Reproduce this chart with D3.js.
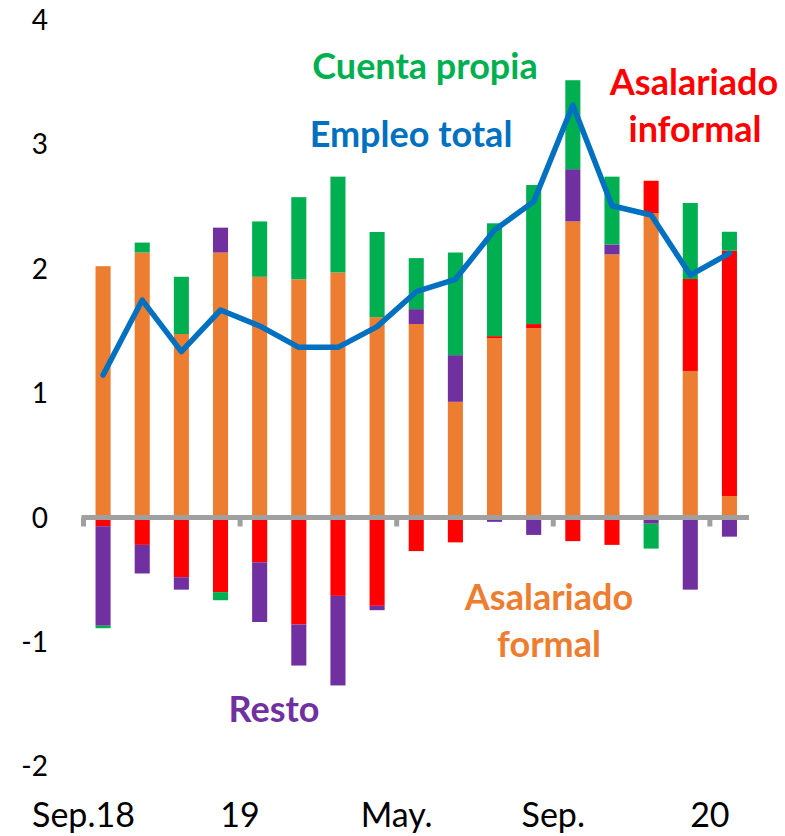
<!DOCTYPE html>
<html>
<head>
<meta charset="utf-8">
<script src="https://cdn.jsdelivr.net/npm/d3@7"></script>
<style>
  body { margin: 0; background: #fff; }
  svg { display: block; font-family: Lato, "Open Sans", sans-serif; }
</style>
</head>
<body>
<div id="chart"></div>
<script>
// months Sep.18 .. Jan.20
var months = ["Sep.18","Oct.18","Nov.18","Dic.18","Ene.19","Feb.19","Mar.19","Abr.19","May.19",
              "Jun.19","Jul.19","Ago.19","Sep.19","Oct.19","Nov.19","Dic.19","Ene.20"];
var tickLabels = ["Sep.18", "19", "May.", "Sep.", "20"];   // every 4th month

var formal   = [2.02, 2.13, 1.475, 2.13, 1.935, 1.915, 1.97, 1.61, 1.555, 0.93, 1.443, 1.523, 2.38, 2.115, 2.445, 1.178, 0.173];
var informal = [-0.07, -0.22, -0.48, -0.60, -0.36, -0.86, -0.63, -0.71, -0.27, -0.20, 0.015, 0.032, -0.19, -0.22, 0.262, 0.739, 1.972];
var resto    = [-0.80, -0.23, -0.10, 0.20, -0.48, -0.33, -0.72, -0.035, 0.12, 0.375, -0.035, -0.14, 0.42, 0.08, -0.05, -0.58, -0.154];
var propia   = [-0.02, 0.08, 0.46, -0.065, 0.445, 0.66, 0.77, 0.685, 0.41, 0.825, 0.907, 1.118, 0.715, 0.545, -0.20, 0.611, 0.152];
var total    = [1.145, 1.748, 1.333, 1.668, 1.54, 1.368, 1.368, 1.534, 1.815, 1.915, 2.311, 2.539, 3.316, 2.506, 2.432, 1.949, 2.124];

var keys = ["formal", "informal", "resto", "propia"];
var colors = {formal: "#ED7D31", informal: "#FF0000", resto: "#7030A0", propia: "#00B050"};

var W = 785, H = 836;
var svg = d3.select("#chart").append("svg").attr("width", W).attr("height", H);

var rows = months.map(function(m, i){
  return {month: m, formal: formal[i], informal: informal[i], resto: resto[i], propia: propia[i], total: total[i]};
});

var x = d3.scaleBand().domain(months).range([83.5, 749]).paddingInner(0.615);
x.paddingOuter(x.paddingInner() / 2);

var y = d3.scaleLinear().domain([-2, 4]).range([766.3, 19.9]);

var series = d3.stack().keys(keys).offset(d3.stackOffsetDiverging)(rows);

svg.append("g").selectAll("g")
  .data(series)
  .join("g")
  .attr("fill", function(d){ return colors[d.key]; })
  .selectAll("rect")
  .data(function(d){ return d; })
  .join("rect")
  .attr("x", function(d){ return x(d.data.month); })
  .attr("width", x.bandwidth())
  .attr("y", function(d){ return y(Math.max(d[0], d[1])); })
  .attr("height", function(d){ return Math.abs(y(d[0]) - y(d[1])); });

// x axis: thick grey line, ticks every 4 months
var step = x.step();
var x0 = x.range()[0];
var tickIdx = [0, 4, 8, 12, 16];
var axis = svg.append("g").attr("stroke", "#A0A0A0").attr("stroke-width", 5).attr("fill", "none");
axis.append("line")
  .attr("x1", x0 - 2).attr("x2", x.range()[1])
  .attr("y1", y(0)).attr("y2", y(0));
axis.selectAll("line.tick")
  .data(tickIdx)
  .join("line")
  .attr("class", "tick")
  .attr("x1", function(d){ return x0 + d * step; })
  .attr("x2", function(d){ return x0 + d * step; })
  .attr("y1", y(0))
  .attr("y2", y(0) + 9);

// y labels
svg.append("g").selectAll("text")
  .data(y.ticks(6))
  .join("text")
  .attr("x", 48)
  .attr("y", function(d){ return y(d); })
  .attr("dy", "0.36em")
  .attr("text-anchor", "end")
  .attr("font-size", 28)
  .attr("fill", "#000")
  .text(function(d){ return d; });

// x labels
svg.append("g").selectAll("text")
  .data(tickIdx)
  .join("text")
  .attr("x", function(d){ return x0 + d * step; })
  .attr("y", 827)
  .attr("text-anchor", "middle")
  .attr("font-size", 34)
  .attr("fill", "#000")
  .text(function(d, i){ return tickLabels[i]; });

// total line
var line = d3.line()
  .x(function(d){ return x(d.month) + x.bandwidth() / 2; })
  .y(function(d){ return y(d.total); });

svg.append("path")
  .datum(rows)
  .attr("fill", "none")
  .attr("stroke", "#0070C0")
  .attr("stroke-width", 5.5)
  .attr("stroke-linejoin", "round")
  .attr("stroke-linecap", "round")
  .attr("d", line);

// annotations
var notes = [
  {t: "Cuenta propia", x: 425, y: 79,  c: colors.propia},
  {t: "Empleo total",  x: 411, y: 147, c: "#0070C0"},
  {t: "Asalariado",    x: 694, y: 95,  c: colors.informal},
  {t: "informal",      x: 695, y: 142, c: colors.informal},
  {t: "Asalariado",    x: 549, y: 610, c: colors.formal},
  {t: "formal",        x: 549, y: 657, c: colors.formal},
  {t: "Resto",         x: 274, y: 722, c: colors.resto}
];
svg.append("g").selectAll("text")
  .data(notes)
  .join("text")
  .attr("x", function(d){ return d.x; })
  .attr("y", function(d){ return d.y; })
  .attr("text-anchor", "middle")
  .attr("font-size", 36)
  .attr("font-weight", "bold")
  .attr("fill", function(d){ return d.c; })
  .text(function(d){ return d.t; });
</script>
</body>
</html>
